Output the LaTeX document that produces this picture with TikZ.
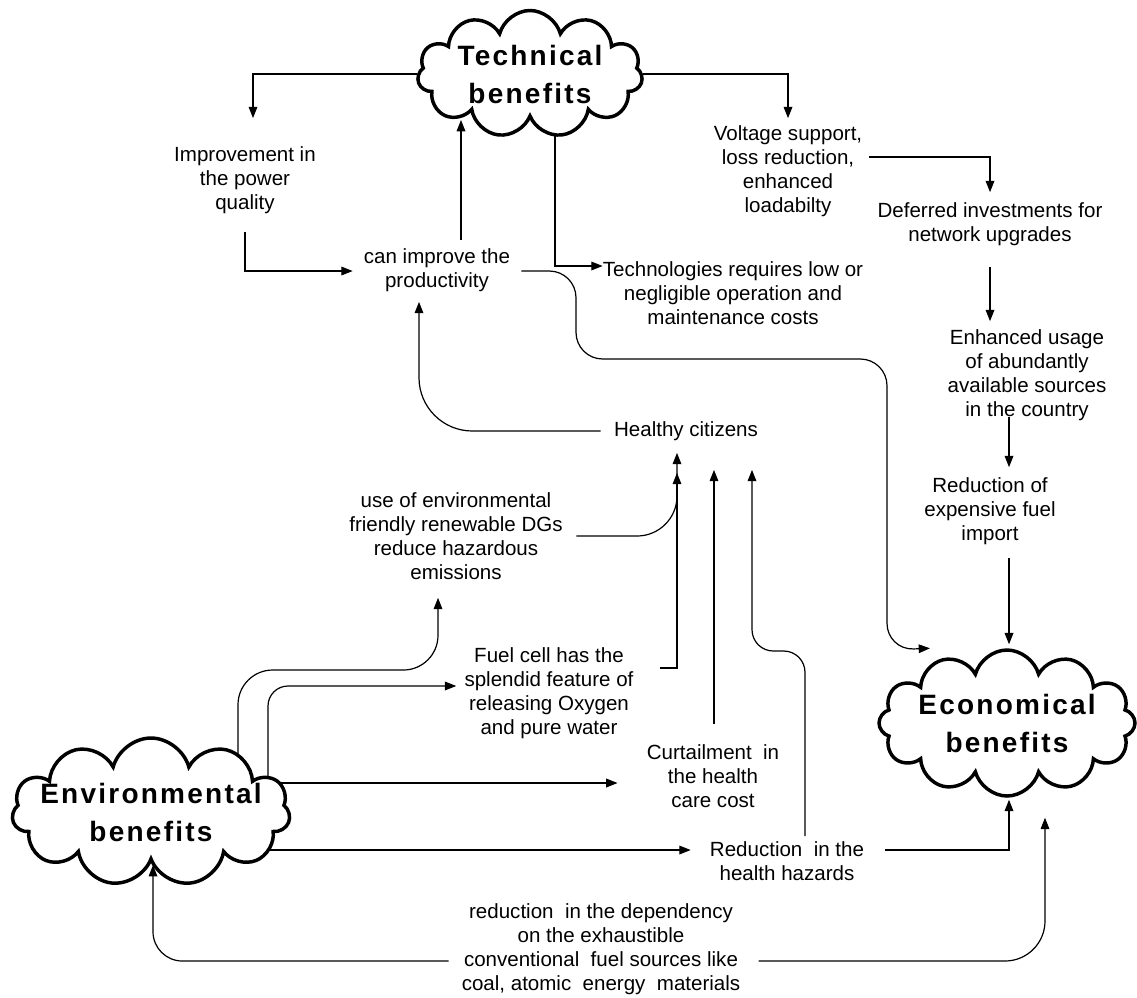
\documentclass[tikz,border=0pt]{standalone}
\usepackage{fontspec}
\setmainfont{Liberation Sans}
\newfontfamily\cloudfont[LetterSpace=8]{Liberation Sans}
\usetikzlibrary{shapes.symbols, arrows.meta, calc, backgrounds}
\newcommand{\cloudtxt}[1]{\hbox to 0pt{\hss\raisebox{-7.5pt}[0pt][0pt]{\begin{tabular}{@{}c@{}}#1\end{tabular}}\hss}}
\begin{document}
\begin{tikzpicture}[x=0.75pt, y=-0.75pt,
  txt/.style={align=center, inner sep=0pt, font=\fontsize{15.4}{18}\selectfont},
  cloudn/.style={cloud, cloud puffs=11, cloud ignores aspect, draw, line width=2.6pt, fill=white,
     inner sep=0pt, font=\cloudfont\bfseries\fontsize{21}{28.5}\selectfont},
  conn/.style={line width=0.9pt},
  arr/.style={conn, -{Triangle[length=8.5pt,width=6.5pt]}}]
\useasboundingbox (0,0) rectangle (1137,997);

% clouds
\node[cloudn, minimum width=168.75pt, minimum height=95.25pt] (tech) at (530,74) {\cloudtxt{Technical\\benefits}};
\node[cloudn, minimum width=192pt, minimum height=109.5pt, cloud puffs=12] (econ) at (1007,723) {\cloudtxt{Economical\\benefits}};
\node[cloudn, minimum width=208.5pt, minimum height=111pt] (env) at (151,812) {\cloudtxt{Environmental\\benefits}};

% text nodes
\node[txt] (imp) at (245,180) {Improvement in\\the power\\quality};
\node[txt] (prod) at (437,270) {can improve the\\productivity};
\node[txt] (volt) at (788,171) {Voltage support,\\loss reduction,\\enhanced\\loadabilty};
\node[txt] (tech2) at (733,293) {Technologies requires low or\\negligible operation and\\maintenance costs};
\node[txt] (defer) at (990,224) {Deferred investments for\\network upgrades};
\node[txt] (enh) at (1027,375) {Enhanced usage\\of abundantly\\available sources\\in the country};
\node[txt] (red) at (990,511) {Reduction of\\expensive fuel\\import};
\node[txt] (healthy) at (686,431) {Healthy citizens};
\node[txt] (use) at (456,536) {use of environmental\\friendly renewable DGs\\reduce hazardous\\emissions};
\node[txt] (fuel) at (549,693) {Fuel cell has the\\splendid feature of\\releasing Oxygen\\and pure water};
\node[txt] (curt) at (713,776) {Curtailment\ \ in\\the health\\care cost};
\node[txt] (rhh) at (787,861) {Reduction\ \ in the\\health hazards};
\node[txt] (dep) at (601,949) {reduction\ \ in the dependency\\on the exhaustible\\conventional\ \ fuel sources like\\coal, atomic\ \ energy\ \ materials};

% helper coordinates
\coordinate (p3) at ($(prod.north)+(24,-8)$);
\coordinate (v5) at ($(volt.east)+(7,-14)$);
\coordinate (d6) at ($(defer.south)+(0,21)$);
\coordinate (e7) at ($(enh.south)+(-18,-4)$);
\coordinate (r8) at ($(red.south)+(19,13)$);
\coordinate (t9) at ($(tech.center)+(25,0)$);
\coordinate (f12) at ($(fuel.east)+(26,-25)$);
\coordinate (c12) at ($(curt.north)+(1,-20)$);
\coordinate (h12) at ($(rhh.north)+(18,-5)$);
\coordinate (h12t) at ($(healthy.south)+(66,29)$);
\coordinate (e13) at ($(env.center)+(0,-29)$);
\coordinate (e14) at ($(env.center)+(0,38)$);

\begin{pgfonlayer}{background}
% technical side
\draw[arr] (tech.west) -| ($(imp.north)+(8,-28)$);
\draw[arr] ($(imp.south)+(0,18)$) |- ($(prod.west)+(-11,1)$);
\draw[arr] (p3) -- (p3 |- tech.south);
\draw[arr] (tech.east) -| ($(volt.north)+(0,-7)$);
\draw[arr] (v5) -| ($(defer.north)+(0,-10)$);
\draw[arr, shorten >=6pt] (d6) -- (d6 |- enh.north);
\draw[arr, shorten >=7.5pt] (e7) -- (e7 |- red.north);
\draw[arr, shorten >=3pt] (r8) -- (r8 |- econ.north);
\draw[arr] (t9) |- ($(tech2.west)+(0,-27)$);
\draw[arr, rounded corners=20pt] ($(prod.east)+(11,1)$) -- (576,271) -- (576,359) -- (887,359) -- (887,650) -- ($(econ.north)+(-77,0)$);
% health
\draw[arr, rounded corners=40pt, shorten <=10pt] (healthy.west) -| ($(prod.south)+(-18,10)$);
\draw[arr, rounded corners=30pt, shorten <=10pt] (use.east) -| ($(healthy.south)+(-9,12)$);
\draw[arr] (f12) -| ($(healthy.south)+(-9,32)$);
\draw[arr, shorten >=21.75pt] (c12) -- (c12 |- healthy.south);
\draw[arr, rounded corners=16pt] (h12) -- (h12 |- 0,651) -- (h12t |- 0,651) -- (h12t);
% environmental
\draw[arr, rounded corners=26pt] ($(env.center)+(87,0)$) |- (438,670) -- ($(use.south)+(-18,18)$);
\draw[arr, rounded corners=15pt] ($(env.center)+(117,0)$) |- ($(fuel.west)+(-8,-7)$);
\draw[arr, shorten >=21.75pt] (e13) -- (e13 -| curt.west);
\draw[arr, shorten >=14.25pt] (e14) -- (e14 -| rhh.west);
\draw[arr, shorten <=15.75pt] ($(rhh.east)+(0,-11)$) -| ($(econ.south)+(2,2)$);
\draw[arr, rounded corners=22pt, shorten <=9.75pt] ($(dep.west)+(0,12)$) -| ($(env.south)+(2,2)$);
\draw[arr, rounded corners=30pt, shorten <=13.5pt] ($(dep.east)+(0,12)$) -| ($(econ.south)+(38,20)$);
\end{pgfonlayer}
\end{tikzpicture}
\end{document}
